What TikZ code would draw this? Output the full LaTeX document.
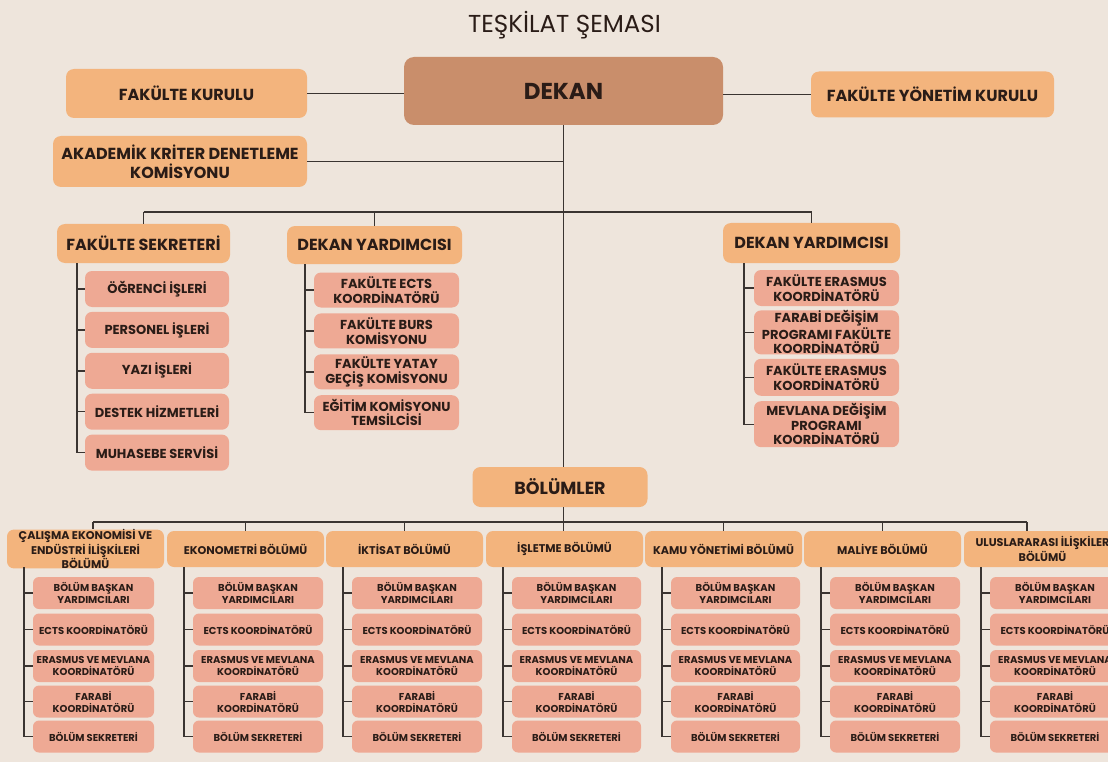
\documentclass[tikz,border=0pt]{standalone}
\usepackage{fontspec}
\setmainfont{Poppins}
\usetikzlibrary{positioning}

\definecolor{zemin}{HTML}{EEE5DC}
\definecolor{turuncu}{HTML}{F3B47D}
\definecolor{kahve}{HTML}{C98E6B}
\definecolor{pembe}{HTML}{EEA994}
\definecolor{murekkep}{HTML}{2A1C17}
\definecolor{cizgi}{HTML}{3A3431}

\begin{document}
\begin{tikzpicture}[
  x=1pt, y=-1pt, node distance=4.5pt,
  every node/.style={text=murekkep},
  dekanbox/.style={rectangle, fill=kahve, rounded corners=10pt, inner sep=0pt, minimum width=319pt, minimum height=68pt, font=\bfseries\fontsize{23}{26}\selectfont},
  ustbox/.style={rectangle, fill=turuncu, rounded corners=8pt, inner sep=0pt, align=center, font=\bfseries\fontsize{16}{19}\selectfont},
  birimbox/.style={rectangle, fill=pembe, rounded corners=7pt, inner sep=0pt, minimum width=145pt, align=center, font=\bfseries\fontsize{13}{14.5}\selectfont},
  bolumbox/.style={rectangle, fill=turuncu, rounded corners=7pt, inner sep=0pt, minimum width=157pt, minimum height=36pt, align=center, font=\bfseries\fontsize{11.2}{10.8}\selectfont},
  altbox/.style={rectangle, fill=pembe, rounded corners=6pt, inner sep=0pt, minimum height=32pt, align=center, font=\bfseries\fontsize{10}{12}\selectfont},
  baglanti/.style={draw=cizgi, line width=1.4pt}
]
\useasboundingbox (0,0) rectangle (1108,762);
\clip (0,0) rectangle (1108,762);
\fill[zemin] (0,0) rectangle (1108,762);

%Title
\node[font=\fontsize{24.5}{28}\selectfont, anchor=base] (baslik) at (564.5,33) {TEŞKİLAT ŞEMASI};

%Nodes
\node[dekanbox] (dekan) at (563.5,91) {DEKAN};
\node[ustbox, minimum width=241pt, minimum height=49pt] (fk) at (186.5,93.5) {FAKÜLTE KURULU};
\node[ustbox, minimum width=243pt, minimum height=46pt] (fyk) at (932.5,94.5) {FAKÜLTE YÖNETİM KURULU};
\node[ustbox, minimum width=254pt, minimum height=51pt] (akd) at (180,161.5) {AKADEMİK KRİTER DENETLEME\\KOMİSYONU};

\node[ustbox, minimum width=173pt, minimum height=39pt] (fs) at (143.5,243.5) {FAKÜLTE SEKRETERİ};
\node[ustbox, minimum width=175pt, minimum height=38pt] (dyl) at (374.5,245) {DEKAN YARDIMCISI};
\node[ustbox, minimum width=177pt, minimum height=40pt] (dyr) at (811.5,243) {DEKAN YARDIMCISI};

\node[ustbox, minimum width=175pt, minimum height=40pt, font=\bfseries\fontsize{17.5}{20}\selectfont] (bol) at (560,487) {BÖLÜMLER};

%Fakulte sekreteri
\node[birimbox, minimum width=144pt, minimum height=36pt] (fs1) at (157,289) {ÖĞRENCİ İŞLERİ};
\node[birimbox, minimum width=144pt, minimum height=36pt, below=of fs1] (fs2) {PERSONEL İŞLERİ};
\node[birimbox, minimum width=144pt, minimum height=36pt, below=of fs2] (fs3) {YAZI İŞLERİ};
\node[birimbox, minimum width=144pt, minimum height=36pt, below=of fs3] (fs4) {DESTEK HİZMETLERİ};
\node[birimbox, minimum width=144pt, minimum height=36pt, below=of fs4] (fs5) {MUHASEBE SERVİSİ};

%Dekan yardimcisi (sol)
\node[birimbox, minimum height=35pt] (dl1) at (386.5,290) {FAKÜLTE ECTS\\KOORDİNATÖRÜ};
\node[birimbox, minimum height=35pt, below=5.5pt of dl1] (dl2) {FAKÜLTE BURS\\KOMİSYONU};
\node[birimbox, minimum height=35pt, below=5.5pt of dl2] (dl3) {FAKÜLTE YATAY\\GEÇİŞ KOMİSYONU};
\node[birimbox, minimum height=35pt, below=5.5pt of dl3] (dl4) {EĞİTİM KOMİSYONU\\TEMSİLCİSİ};

%Dekan yardimcisi (sag)
\node[birimbox, minimum height=36pt] (dr1) at (826.5,288) {FAKÜLTE ERASMUS\\KOORDİNATÖRÜ};
\node[birimbox, minimum height=44pt, below=4pt of dr1] (dr2) {FARABİ DEĞİŞİM\\PROGRAMI FAKÜLTE\\KOORDİNATÖRÜ};
\node[birimbox, minimum height=37pt, below=4pt of dr2] (dr3) {FAKÜLTE ERASMUS\\KOORDİNATÖRÜ};
\node[birimbox, minimum height=46pt, below=5pt of dr3] (dr4) {MEVLANA DEĞİŞİM\\PROGRAMI\\KOORDİNATÖRÜ};

%Lines
\coordinate (bar) at (0,212);
\coordinate (fsv) at (77,263);
\coordinate (dlv) at (305,264);
\coordinate (drv) at (744,263);

\draw[baglanti] (fk.east) -- (fk.east -| dekan.west);
\draw[baglanti] (dekan.east |- fyk.west) -- (fyk.west);
\draw[baglanti] (akd.east) -- (akd.east -| dekan.south);
\draw[baglanti] (dekan.south) -- (dekan.south |- bol.north);
\draw[baglanti] (bar -| fs.north) -- (bar -| dyr.north);
\draw[baglanti] (bar -| fs.north) -- (fs.north);
\draw[baglanti] (bar -| dyl.north) -- (dyl.north);
\draw[baglanti] (bar -| dyr.north) -- (dyr.north);

\draw[baglanti] (fsv) |- (fs5.west);
\foreach \j in {1,...,4} \draw[baglanti] (fs\j.west -| fsv) -- (fs\j.west);
\draw[baglanti] (dlv) |- (dl4.west);
\foreach \j in {1,...,3} \draw[baglanti] (dl\j.west -| dlv) -- (dl\j.west);
\draw[baglanti] (drv) |- (dr4.west);
\foreach \j in {1,...,3} \draw[baglanti] (dr\j.west -| drv) -- (dr\j.west);

%Bolumler
\foreach \i/\xl/\dx/\sw/\bname in {
  1/7/93/121/{ÇALIŞMA EKONOMİSİ VE\\ENDÜSTRİ İLİŞKİLERİ\\BÖLÜMÜ},
  2/167/245.5/130/{EKONOMETRİ BÖLÜMÜ},
  3/326/404.5/130/{İKTİSAT BÖLÜMÜ},
  4/486/563.5/129/{İŞLETME BÖLÜMÜ},
  5/645/723.5/129/{KAMU YÖNETİMİ BÖLÜMÜ},
  6/804/882.5/130/{MALİYE BÖLÜMÜ},
  7/964/1027/130/{ULUSLARARASI İLİŞKİLER\\BÖLÜMÜ}}
{
  \node[bolumbox] (d\i) at (\xl+78.5,549) {\bname};
  \coordinate (k\i) at (\dx,522);
  \coordinate (v\i) at (\xl+17,567);
  \foreach \j/\yc/\sname in {1/593/{BÖLÜM BAŞKAN\\YARDIMCILARI}, 2/629.5/{ECTS KOORDİNATÖRÜ}, 3/666/{ERASMUS VE MEVLANA\\KOORDİNATÖRÜ}, 4/701.5/{FARABİ\\KOORDİNATÖRÜ}, 5/736.5/{BÖLÜM SEKRETERİ}}
    \node[altbox, minimum width=\sw pt] (a\i\j) at (\xl+26+\sw/2,\yc) {\sname};
  \draw[baglanti] (k\i) -- (k\i |- d\i.north);
  \draw[baglanti] (v\i) |- (a\i5.west);
  \foreach \j in {1,...,4} \draw[baglanti] (a\i\j.west -| v\i) -- (a\i\j.west);
}
\draw[baglanti] (k1) -- (k7);
\draw[baglanti] (bol.south -| dekan.south) -- (k4);

\end{tikzpicture}
\end{document}
